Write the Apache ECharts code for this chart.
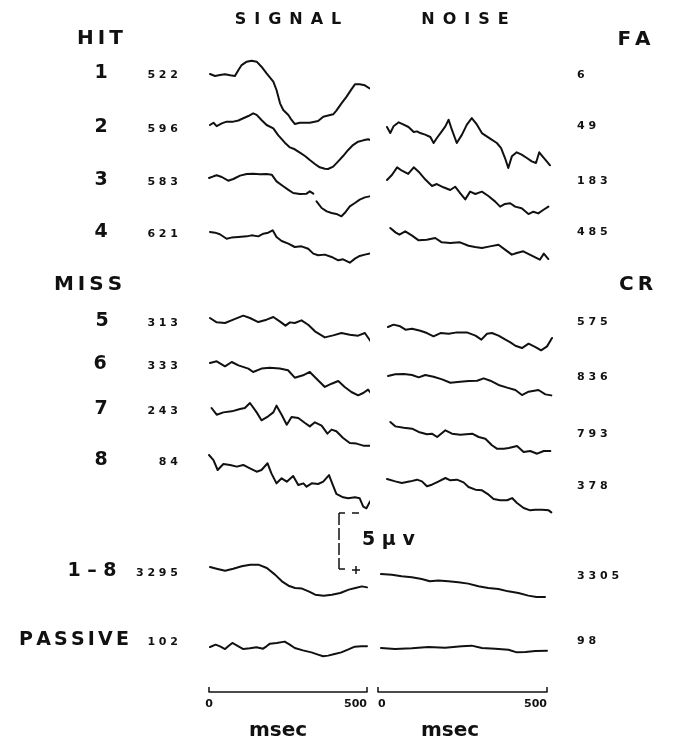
<!DOCTYPE html>
<html>
<head>
<meta charset="utf-8">
<script src="https://cdn.jsdelivr.net/npm/echarts/dist/echarts.min.js"></script>
<style>
  html, body { margin: 0; padding: 0; background: #fff; }
  #chart { width: 676px; height: 741px; }
</style>
</head>
<body>
<div id="chart"></div>
<script>
// Averaged evoked potentials, [msec, microvolts]; positive is drawn downward.
const sigHit1 = [[3,0],[19,0.18],[34,0.09],[50,0.03],[66,0.12],[81,0.18],[92,-0.36],[102,-0.8],[118,-1.1],[133,-1.19],[149,-1.1],[164,-0.65],[180,-0.06],[201,0.68],[211,1.43],[222,2.62],[232,3.21],[248,3.66],[258,4.1],[268,4.46],[284,4.35],[315,4.35],[341,4.2],[357,3.81],[388,3.6],[398,3.27],[414,2.62],[430,2.02],[445,1.37],[456,0.92],[471,0.92],[487,1.01],[502,1.28]];
const sigHit2 = [[3,0],[14,-0.2],[24,0.1],[40,-0.15],[55,-0.3],[76,-0.3],[92,-0.4],[107,-0.6],[123,-0.8],[138,-1.04],[149,-0.9],[164,-0.45],[180,0],[201,0.3],[216,0.9],[237,1.58],[253,2.0],[268,2.17],[284,2.47],[300,2.77],[315,3.13],[331,3.48],[346,3.78],[362,3.9],[372,3.93],[388,3.72],[403,3.27],[419,2.77],[435,2.23],[450,1.79],[466,1.49],[482,1.37],[497,1.28],[505,1.34]];
const sigHit3 = [[0,0],[14,-0.15],[24,-0.24],[40,-0.09],[60,0.24],[76,0.09],[97,-0.21],[118,-0.36],[138,-0.39],[159,-0.33],[180,-0.36],[196,-0.3],[211,0.3],[232,0.74],[247,1.04],[263,1.34],[284,1.43],[305,1.4],[315,1.19],[326,1.4],[331,null],[336,2.08],[352,2.68],[368,2.98],[383,3.13],[398,3.21],[414,3.42],[424,3.13],[440,2.53],[456,2.23],[471,1.93],[487,1.73],[502,1.64]];
const sigHit4 = [[3,0],[19,0.06],[34,0.2],[55,0.6],[70,0.5],[92,0.45],[118,0.39],[133,0.3],[154,0.39],[170,0.15],[185,0.06],[199,-0.15],[211,0.45],[227,0.8],[248,1.04],[268,1.34],[289,1.28],[310,1.49],[326,1.93],[341,2.08],[362,2.02],[383,2.23],[404,2.53],[419,2.44],[440,2.74],[456,2.38],[471,2.14],[487,2.02],[508,1.88]];
const sigMiss5 = [[3,0],[24,0.39],[50,0.45],[76,0.15],[107,-0.21],[128,0],[154,0.36],[180,0.15],[201,-0.09],[221,0.3],[239,0.68],[253,0.39],[268,0.45],[289,0.21],[310,0.6],[331,1.19],[362,1.73],[388,1.55],[414,1.34],[440,1.49],[466,1.58],[487,1.34],[505,2.08]];
const sigMiss6 = [[3,0],[24,-0.15],[50,0.3],[71,-0.09],[92,0.21],[123,0.5],[138,0.8],[164,0.5],[190,0.42],[221,0.5],[247,0.65],[268,1.31],[294,1.1],[315,0.8],[336,1.4],[362,2.14],[383,1.85],[404,1.61],[424,2.14],[445,2.59],[466,2.89],[482,2.68],[497,2.38],[508,2.74]];
const sigMiss7 = [[8,0],[24,0.6],[45,0.39],[71,0.3],[97,0.09],[112,0],[128,-0.45],[149,0.39],[164,1.1],[185,0.74],[201,0.39],[211,-0.21],[227,0.6],[243,1.49],[258,0.8],[279,0.89],[300,1.34],[315,1.64],[331,1.28],[352,1.58],[370,2.29],[383,1.93],[398,2.08],[419,2.68],[440,3.13],[461,3.18],[482,3.36],[505,3.36]];
const sigMiss8 = [[0,0],[14,0.45],[27,1.34],[45,0.8],[66,0.89],[87,1.04],[107,0.89],[128,1.19],[149,1.49],[164,1.34],[183,0.74],[195,1.64],[211,2.53],[227,2.08],[243,2.38],[263,1.87],[279,2.68],[295,2.53],[305,2.83],[321,2.53],[341,2.59],[357,2.38],[375,1.79],[385,2.53],[398,3.48],[419,3.78],[435,3.87],[456,3.78],[471,3.87],[482,4.61],[492,4.76],[500,4.32],[505,4.08]];
const sigAll = [[0,0],[21,0.15],[48,0.33],[74,0.15],[101,-0.06],[128,-0.21],[154,-0.21],[181,0.09],[207,0.68],[229,1.28],[250,1.67],[271,1.88],[293,1.93],[314,2.17],[335,2.47],[362,2.56],[388,2.47],[415,2.32],[442,2.02],[463,1.88],[484,1.73],[500,1.82]];
const sigPassive = [[0,0],[18,-0.21],[32,-0.06],[48,0.18],[58,-0.06],[71,-0.36],[85,-0.15],[106,0.18],[127,0.12],[148,0.03],[169,0.15],[180,-0.06],[191,-0.3],[212,-0.36],[238,-0.48],[254,-0.21],[270,0.09],[296,0.3],[323,0.48],[344,0.68],[360,0.83],[376,0.77],[397,0.62],[418,0.48],[439,0.24],[461,-0.03],[482,-0.06],[500,-0.06]];

const noiseFa2 = [[0,0],[10,0.54],[20,-0.06],[36,-0.42],[51,-0.21],[66,0],[82,0.45],[92,0.39],[102,0.54],[117,0.68],[133,0.89],[143,1.43],[153,0.98],[168,0.39],[179,-0.06],[189,-0.65],[199,0.24],[214,1.43],[230,0.68],[245,-0.21],[260,-0.8],[276,-0.21],[291,0.54],[306,0.83],[321,1.13],[337,1.43],[350,1.88],[362,2.77],[372,3.66],[383,2.62],[398,2.26],[413,2.47],[429,2.77],[444,3.07],[457,3.21],[467,2.26],[477,2.62],[490,3.07],[500,3.42]];
const noiseFa3 = [[0,0],[15,-0.45],[31,-1.13],[46,-0.83],[65,-0.54],[82,-1.13],[97,-0.74],[117,-0.06],[138,0.54],[153,0.36],[173,0.65],[194,0.89],[209,0.6],[225,1.19],[240,1.73],[255,1.04],[271,1.25],[291,1.04],[311,1.43],[332,1.93],[347,2.38],[362,2.14],[378,2.08],[393,2.38],[413,2.53],[434,3.04],[449,2.83],[464,2.98],[479,2.68],[495,2.38]];
const noiseFa4 = [[10,0],[26,0.39],[38,0.6],[56,0.3],[77,0.68],[97,1.1],[122,1.04],[148,0.89],[168,1.28],[194,1.34],[224,1.28],[250,1.58],[270,1.7],[291,1.79],[316,1.64],[342,1.49],[362,1.93],[383,2.38],[398,2.23],[418,2.08],[444,2.47],[469,2.83],[481,2.29],[495,2.77]];
const noiseCr5 = [[3,0],[20,-0.21],[40,-0.06],[56,0.24],[76,0.15],[101,0.33],[121,0.54],[141,0.83],[162,0.54],[187,0.6],[212,0.48],[242,0.48],[268,0.77],[286,1.13],[303,0.6],[318,0.54],[338,0.77],[359,1.13],[374,1.37],[389,1.67],[409,1.88],[429,1.49],[450,1.79],[467,2.08],[485,1.73],[500,0.98]];
const noiseCr6 = [[3,0],[25,-0.15],[51,-0.18],[76,-0.09],[96,0.12],[116,-0.09],[141,0.06],[167,0.3],[192,0.6],[222,0.51],[248,0.45],[273,0.42],[293,0.21],[313,0.42],[338,0.8],[364,1.04],[389,1.25],[409,1.7],[429,1.4],[459,1.25],[480,1.64],[498,1.73]];
const noiseCr7 = [[10,0],[25,0.39],[51,0.51],[76,0.6],[96,0.89],[121,1.1],[136,1.04],[152,1.34],[177,0.74],[197,1.04],[222,1.13],[258,1.04],[278,1.34],[298,1.49],[318,2.08],[333,2.38],[354,2.38],[369,2.32],[394,2.14],[414,2.68],[434,2.59],[455,2.83],[475,2.59],[495,2.59]];
const noiseCr8 = [[0,0],[25,0.21],[45,0.36],[71,0.21],[91,0.06],[106,0.21],[121,0.65],[136,0.51],[157,0.21],[177,-0.09],[192,0.12],[212,0.06],[232,0.3],[247,0.71],[268,0.95],[288,1.01],[308,1.4],[323,1.79],[343,1.9],[364,1.9],[379,1.7],[394,2.14],[414,2.59],[434,2.8],[449,2.74],[470,2.74],[490,2.8],[498,2.98]];
const noiseAll = [[0,0],[33,0.06],[63,0.21],[94,0.3],[124,0.45],[149,0.65],[175,0.57],[205,0.65],[236,0.74],[266,0.86],[297,1.1],[327,1.25],[358,1.34],[388,1.55],[419,1.7],[449,1.93],[474,2.05],[500,2.05]];
const noisePassive = [[0,0],[42,0.09],[93,0.03],[143,-0.09],[193,-0.03],[243,-0.15],[273,-0.21],[304,0],[344,0.06],[384,0.15],[409,0.39],[435,0.36],[465,0.27],[500,0.24]];

// Trial counts per condition
const hitCounts = [522, 596, 583, 621];
const faCounts = [6, 49, 183, 485];
const missCounts = [313, 333, 243, 84];
const crCounts = [575, 836, 793, 378];
const pooledCounts = [3295, 3305];
const passiveCounts = [102, 98];

const rowNames = ['1', '2', '3', '4', '5', '6', '7', '8', '1 \u2013 8', 'PASSIVE'];
const timeTicks = [0, 500];
const scaleBarText = '5 \u00b5 v';

// ---- layout ----
const PX_PER_UV = 11.2;
const UV_RANGE = 6;
const FONT = '"DejaVu Sans", "Liberation Sans", sans-serif';
const INK = '#111';

const traces = [
  { data: sigHit1, baseY: 74, left: 209, width: 160 },
  { data: sigHit2, baseY: 125, left: 209, width: 160 },
  { data: sigHit3, baseY: 178, left: 209, width: 160 },
  { data: sigHit4, baseY: 232, left: 209, width: 160 },
  { data: sigMiss5, baseY: 318, left: 209, width: 160 },
  { data: sigMiss6, baseY: 363, left: 209, width: 160 },
  { data: sigMiss7, baseY: 408, left: 209, width: 160 },
  { data: sigMiss8, baseY: 455, left: 209, width: 160 },
  { data: sigAll, baseY: 567, left: 210, width: 157 },
  { data: sigPassive, baseY: 647, left: 210, width: 157 },
  { data: noiseFa2, baseY: 127, left: 387, width: 163 },
  { data: noiseFa3, baseY: 180, left: 387, width: 163 },
  { data: noiseFa4, baseY: 228, left: 387, width: 163 },
  { data: noiseCr5, baseY: 327, left: 387, width: 165 },
  { data: noiseCr6, baseY: 376, left: 387, width: 165 },
  { data: noiseCr7, baseY: 422, left: 387, width: 165 },
  { data: noiseCr8, baseY: 479, left: 387, width: 165 },
  { data: noiseAll, baseY: 574, left: 381, width: 164 },
  { data: noisePassive, baseY: 648, left: 381, width: 166 }
];

const grid = [], xAxis = [], yAxis = [], series = [];
traces.forEach((t, i) => {
  grid.push({ left: t.left, width: t.width, top: t.baseY - UV_RANGE * PX_PER_UV, height: 2 * UV_RANGE * PX_PER_UV });
  xAxis.push({ gridIndex: i, type: 'value', min: 0, max: 500, show: false });
  yAxis.push({ gridIndex: i, type: 'value', min: -UV_RANGE, max: UV_RANGE, inverse: true, show: false });
  series.push({
    type: 'line', xAxisIndex: i, yAxisIndex: i, data: t.data,
    showSymbol: false, symbol: 'none', smooth: false, connectNulls: false,
    lineStyle: { color: INK, width: 2, join: 'round', cap: 'round' }, silent: true, animation: false
  });
});

// time axes under each column
const timeAxes = [
  { left: 209, width: 158, minAlign: 'center' },
  { left: 378, width: 169, minAlign: 'left' }
];
timeAxes.forEach(a => {
  const gi = grid.length;
  grid.push({ left: a.left, width: a.width, top: 640, height: 52 });
  xAxis.push({
    gridIndex: gi, type: 'value', min: timeTicks[0], max: timeTicks[1], interval: 500,
    position: 'bottom',
    axisLine: { show: true, lineStyle: { color: INK, width: 1.5 } },
    axisTick: { show: true, inside: true, length: 5, lineStyle: { color: INK, width: 1.5 } },
    splitLine: { show: false },
    axisLabel: { show: true, margin: 7, color: INK, fontFamily: FONT, fontWeight: 'bold', fontSize: 11,
      alignMinLabel: a.minAlign, alignMaxLabel: 'right' }
  });
  yAxis.push({ gridIndex: gi, type: 'value', show: false });
});

const sp = s => s.split('').join('\u2009');
const txt = (text, x, y, size, align, extra) => Object.assign({
  type: 'text', x: x, y: y, silent: true,
  style: { text: text, font: 'bold ' + size + 'px ' + FONT, fill: INK,
    textAlign: align || 'center', textVerticalAlign: 'middle' }
}, extra || {});

const graphics = [];
// column headers
graphics.push(txt('S\u2002I\u2002G\u2002N\u2002A\u2002L', 288, 20, 16));
graphics.push(txt('N\u2002O\u2002I\u2002S\u2002E', 465, 20, 16));
graphics.push(txt(sp('HIT'), 100, 39, 20));
graphics.push(txt(sp('FA'), 634, 40, 20));
graphics.push(txt(sp('MISS'), 88, 285, 20));
graphics.push(txt(sp('CR'), 636, 285, 20));

// row labels and counts
const rowY = [73, 127, 180, 232, 321, 364, 409, 460, 571, 640];
const rowX = [101, 101, 101, 101, 102, 100, 101, 101, 92, 74];
const leftCounts = hitCounts.concat(missCounts, [pooledCounts[0], passiveCounts[0]]);
const rightCounts = faCounts.concat(crCounts, [pooledCounts[1], passiveCounts[1]]);
const rightY = [75, 126, 181, 232, 322, 377, 434, 486, 576, 641];
rowNames.forEach((name, i) => {
  const label = name === 'PASSIVE' ? name.split('').join('\u2006') : name;
  graphics.push(txt(label, rowX[i], rowY[i], 19));
  graphics.push(txt(String(leftCounts[i]).split('').join(' '), 178, rowY[i] + 2, 11, 'right'));
  graphics.push(txt(String(rightCounts[i]).split('').join(' '), 577, rightY[i], 11, 'left'));
});

// calibration bar: 5 microvolts, positive down
const barTop = 513, barBottom = barTop + 5 * PX_PER_UV, barX = 339;
const ink = { stroke: INK, lineWidth: 1.5 };
graphics.push({ type: 'line', silent: true, shape: { x1: barX, y1: barTop, x2: barX, y2: barBottom },
  style: Object.assign({ lineDash: [12, 3] }, ink) });
graphics.push({ type: 'line', silent: true, shape: { x1: barX, y1: barTop, x2: barX + 6, y2: barTop }, style: ink });
graphics.push({ type: 'line', silent: true, shape: { x1: barX + 13, y1: barTop, x2: barX + 20, y2: barTop }, style: ink });
graphics.push({ type: 'line', silent: true, shape: { x1: barX, y1: barBottom, x2: barX + 6, y2: barBottom }, style: ink });
graphics.push({ type: 'line', silent: true, shape: { x1: barX + 13, y1: barBottom + 1, x2: barX + 21, y2: barBottom + 1 }, style: ink });
graphics.push({ type: 'line', silent: true, shape: { x1: barX + 17, y1: barBottom - 3, x2: barX + 17, y2: barBottom + 5 }, style: ink });
graphics.push(txt(scaleBarText, 362, 540, 19, 'left'));

// time axis titles
graphics.push(txt('msec', 278, 731, 20));
graphics.push(txt('msec', 450, 731, 20));

const chart = echarts.init(document.getElementById('chart'), null, { renderer: 'canvas' });
chart.setOption({
  backgroundColor: '#fff',
  animation: false,
  grid: grid,
  xAxis: xAxis,
  yAxis: yAxis,
  series: series,
  graphic: { elements: graphics }
});
</script>
</body>
</html>
